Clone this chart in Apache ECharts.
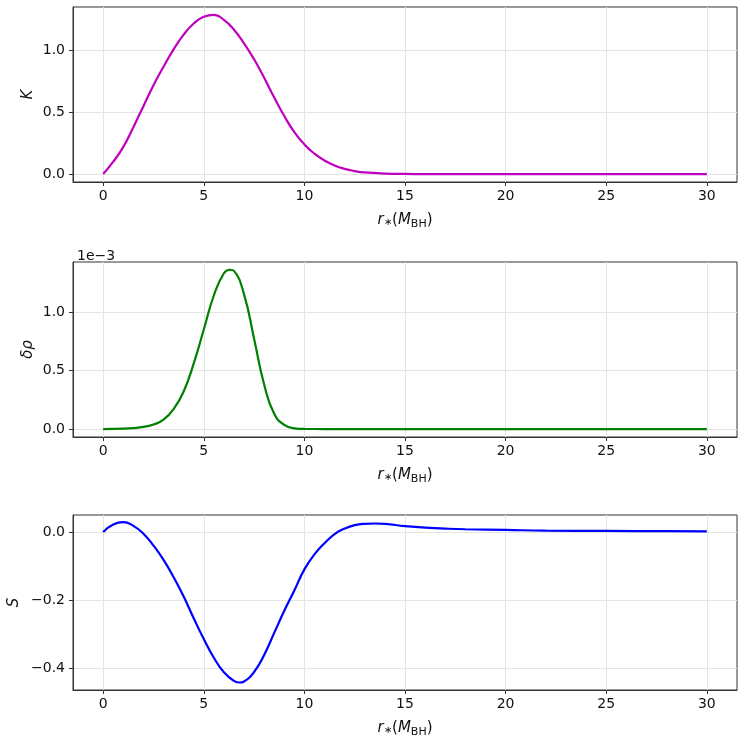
<!DOCTYPE html>
<html>
<head>
<meta charset="utf-8">
<script src="https://cdn.jsdelivr.net/npm/echarts@6/dist/echarts.min.js"></script>
<style>
  html, body { margin: 0; padding: 0; background: #fff; }
  #chart { width: 745px; height: 742px; }
</style>
</head>
<body>
<div id="chart"></div>
<script>
// values
var kR = [0,0.5,1,1.5,2,2.5,3,3.5,4,4.5,5,5.5,6,6.5,7,7.5,8,8.5,9,9.5,10,10.5,11,11.5,12,12.5,13,14,15,16,18,20,25,30];
var kVals = [0,0.10,0.22,0.38,0.55,0.72,0.87,1.01,1.13,1.22,1.275,1.29,1.25,1.17,1.06,0.93,0.78,0.62,0.47,0.34,0.24,0.165,0.11,0.07,0.042,0.024,0.013,0.004,0.001,0,0,0,0,0];

// delta rho, in units of 1e-3
var rhoR = [0,1,1.5,2,2.5,3,3.5,4,4.5,5,5.5,6,6.3,6.5,7,7.5,8,8.5,9,9.5,10,11,15,20,25,30];
var rhoVals = [0,0.003,0.008,0.018,0.038,0.08,0.17,0.32,0.56,0.85,1.14,1.33,1.36,1.35,1.15,0.77,0.38,0.13,0.035,0.006,0.001,0,0,0,0,0];

var sR = [0,0.5,1,1.5,2,2.5,3,3.5,4,4.5,5,5.5,6,6.5,6.8,7,7.5,8,8.5,9,9.5,10,10.5,11,11.5,12,12.5,13,13.5,14,15,16,17,18,20,22,25,28,30];
var sVals = [0,0.022,0.029,0.018,-0.005,-0.04,-0.082,-0.133,-0.19,-0.254,-0.315,-0.37,-0.413,-0.438,-0.443,-0.44,-0.412,-0.362,-0.297,-0.232,-0.172,-0.11,-0.066,-0.033,-0.006,0.01,0.02,0.024,0.025,0.024,0.017,0.013,0.01,0.008,0.006,0.004,0.003,0.0025,0.002];

var xTicks = [0,5,10,15,20,25,30];
var kTicks = [0,0.5,1.0];
var rhoTicks = [0,0.5,1.0];
var sTicks = [-0.4,-0.2,0.0];

var FONT = 'DejaVu Sans';
var TXT = '#111';
var AX = '#333';
var GRIDC = '#e4e4e4';

function pairs(xs, ys){
  var out=[];
  for(var i=0;i<xs.length;i++) out.push([xs[i],ys[i]]);
  return out;
}
function fmt1(v){ return v.toFixed(1).replace('-','\u2212'); }

var xName = '{i|r}{a|\u2217}{n|(}{i|M}{s|BH}{n|)}';
var xRich = {
  i: {fontFamily: FONT, fontStyle: 'italic', fontSize: 15, color: TXT},
  n: {fontFamily: FONT, fontSize: 15, color: TXT},
  a: {fontFamily: FONT, fontSize: 10, color: TXT, padding: [3,0,0,0]},
  s: {fontFamily: FONT, fontSize: 11, color: TXT, padding: [8,0,0,0]}
};

function xAxisFor(idx){
  return {
    type: 'value', gridIndex: idx, min: -1.5, max: 31.5,
    name: xName, nameLocation: 'middle', nameGap: 29, nameMoveOverlap: false,
    nameTextStyle: {rich: xRich},
    axisLine: {show: true, onZero: false, lineStyle: {color: AX}},
    axisTick: {show: true, length: 4, customValues: xTicks, lineStyle: {color: AX}},
    axisLabel: {customValues: xTicks, margin: 7, fontFamily: FONT, fontSize: 14, color: TXT},
    splitLine: {show: true, lineStyle: {color: GRIDC}}
  };
}
function yAxisFor(idx, lo, hi, ticks, name, gap){
  return {
    type: 'value', gridIndex: idx, min: lo, max: hi,
    name: name, nameLocation: 'middle', nameGap: gap, nameMoveOverlap: false,
    nameTextStyle: {fontFamily: FONT, fontStyle: 'italic', fontSize: 15, color: TXT},
    axisLine: {show: true, onZero: false, lineStyle: {color: AX}},
    axisTick: {show: true, length: 4, customValues: ticks, lineStyle: {color: AX}},
    axisLabel: {customValues: ticks, margin: 8, fontFamily: FONT, fontSize: 14, color: TXT, formatter: fmt1},
    splitLine: {show: true, lineStyle: {color: GRIDC}}
  };
}
function gridAt(top){
  return {left: 73, width: 664, top: top, height: 175, outerBoundsMode: 'none', containLabel: false,
    show: true, borderColor: AX, borderWidth: 1, backgroundColor: 'transparent'};
}

var chart = echarts.init(document.getElementById('chart'));
chart.setOption({
  animation: false,
  backgroundColor: '#fff',
  title: {text: '1e\u22123', left: 72, top: 244, textStyle: {fontFamily: FONT, fontWeight: 'normal', fontSize: 14, color: TXT}},
  grid: [gridAt(7), gridAt(262), gridAt(515)],
  xAxis: [xAxisFor(0), xAxisFor(1), xAxisFor(2)],
  yAxis: [
    yAxisFor(0, -0.0645, 1.354, kTicks, 'K', 37),
    yAxisFor(1, -0.068, 1.426, rhoTicks, '\u03b4\u03c1', 37),
    yAxisFor(2, -0.465, 0.05, sTicks, 'S', 51)
  ],
  series: [
    {type: 'line', xAxisIndex: 0, yAxisIndex: 0, data: pairs(kR, kVals), smooth: 0.5, showSymbol: false, lineStyle: {color: '#bf00bf', width: 2.2}},
    {type: 'line', xAxisIndex: 1, yAxisIndex: 1, data: pairs(rhoR, rhoVals), smooth: 0.5, showSymbol: false, lineStyle: {color: '#008000', width: 2.2}},
    {type: 'line', xAxisIndex: 2, yAxisIndex: 2, data: pairs(sR, sVals), smooth: 0.5, showSymbol: false, lineStyle: {color: '#0000ff', width: 2.2}}
  ]
});
</script>
</body>
</html>
